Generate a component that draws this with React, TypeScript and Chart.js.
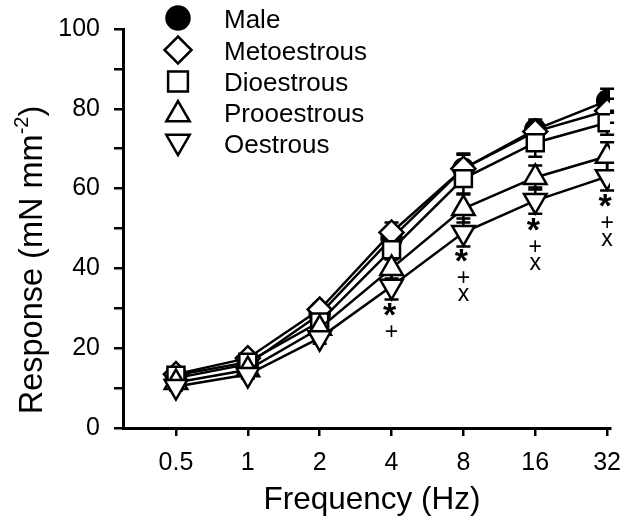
import React, { useEffect, useRef } from 'react';
import { Chart, registerables } from 'chart.js';

Chart.register(...registerables);

const frequencies = [0.5, 1, 2, 4, 8, 16, 32];
const tickLabels = ['0.5', '1', '2', '4', '8', '16', '32'];
const seriesNames = ['Male', 'Metoestrous', 'Dioestrous', 'Prooestrous', 'Oestrous'];

const maleValues = [12.5, 16, 28.5, 47.5, 65, 74.8, 82];
const maleErrors = [1, 1.2, 1.5, 2.5, 3.5, 2.5, 3];
const metoValues = [13.5, 17.5, 29.7, 49, 65, 74.3, 79.5];
const metoErrors = [1, 1.2, 1.5, 2.5, 3.8, 2.5, 3];
const dioValues = [13.2, 16.5, 26.6, 44.7, 62.5, 71.5, 76.5];
const dioErrors = [1, 1, 1.5, 2.5, 3.7, 3.5, 3];
const proValues = [11.4, 14.6, 25, 40, 55, 62.8, 68.1];
const proErrors = [1, 1, 1.5, 2.5, 3.5, 3, 3.5];
const oesValues = [10.4, 13.4, 22.6, 35.5, 49, 57, 63];
const oesErrors = [1, 1, 1.5, 3.3, 3.5, 3.3, 3.5];

// significance marks under the Oestrous points
const significance = [[], [], [], ['*', '+'], ['*', '+', 'x'], ['*', '+', 'x'], ['*', '+', 'x']];

const allValues = [maleValues, metoValues, dioValues, proValues, oesValues];
const allErrors = [maleErrors, metoErrors, dioErrors, proErrors, oesErrors];
const pointStyles = ['circle', 'rectRot', 'rect', 'triangle', 'triangle'];
const pointRotations = [0, 0, 0, 0, 180];
const pointRadii = [10, 12, 12, 13, 13];
const fills = ['#000', '#fff', '#fff', '#fff', '#fff'];

const FONT = '"Liberation Sans", Arial, Helvetica, sans-serif';

function drawMarker(ctx: CanvasRenderingContext2D, style: string, x: number, y: number, r: number, rot: number, fill: string) {
  ctx.beginPath();
  if (style === 'circle') {
    ctx.arc(x, y, r, 0, Math.PI * 2);
  } else if (style === 'rectRot') {
    ctx.moveTo(x, y - r);
    ctx.lineTo(x + r, y);
    ctx.lineTo(x, y + r);
    ctx.lineTo(x - r, y);
    ctx.closePath();
  } else if (style === 'rect') {
    const s = r * Math.SQRT1_2;
    ctx.rect(x - s, y - s, 2 * s, 2 * s);
  } else {
    let a = (rot * Math.PI) / 180;
    ctx.moveTo(x + Math.sin(a) * r, y - Math.cos(a) * r);
    a += (2 * Math.PI) / 3;
    ctx.lineTo(x + Math.sin(a) * r, y - Math.cos(a) * r);
    a += (2 * Math.PI) / 3;
    ctx.lineTo(x + Math.sin(a) * r, y - Math.cos(a) * r);
    ctx.closePath();
  }
  ctx.fillStyle = fill;
  ctx.fill();
  ctx.lineWidth = 2.5;
  ctx.strokeStyle = '#000';
  ctx.stroke();
}

const errorBarPlugin = {
  id: 'errorBars',
  beforeDatasetsDraw(chart: any) {
    const { ctx } = chart;
    const xs = chart.scales.x;
    const ys = chart.scales.y;
    ctx.save();
    ctx.strokeStyle = '#000';
    ctx.lineWidth = 2.5;
    allValues.forEach((vals, di) => {
      vals.forEach((v, i) => {
        const px = xs.getPixelForValue(frequencies[i]);
        const top = ys.getPixelForValue(v + allErrors[di][i]);
        const bot = ys.getPixelForValue(v - allErrors[di][i]);
        ctx.beginPath();
        ctx.moveTo(px, top);
        ctx.lineTo(px, bot);
        ctx.moveTo(px - 7, top);
        ctx.lineTo(px + 7, top);
        ctx.moveTo(px - 7, bot);
        ctx.lineTo(px + 7, bot);
        ctx.stroke();
      });
    });
    ctx.restore();
  },
};

const decorPlugin = {
  id: 'decor',
  afterDraw(chart: any) {
    const { ctx } = chart;
    const xs = chart.scales.x;
    const ys = chart.scales.y;
    ctx.save();
    ctx.fillStyle = '#000';

    // significance marks
    significance.forEach((marks, i) => {
      if (!marks.length) return;
      const px = xs.getPixelForValue(frequencies[i]);
      const base = ys.getPixelForValue(oesValues[i]);
      ctx.textAlign = 'center';
      ctx.textBaseline = 'alphabetic';
      marks.forEach((m) => {
        if (m === '*') {
          ctx.font = `bold 34px ${FONT}`;
          ctx.fillText(m, px - 2, base + 40);
        } else if (m === '+') {
          ctx.font = `23px ${FONT}`;
          ctx.fillText(m, px, base + 53);
        } else {
          ctx.font = `23px ${FONT}`;
          ctx.fillText(m, px, base + 69);
        }
      });
    });

    // legend
    const rows = [18, 50, 81.5, 112.5, 143.5];
    const legendR = [11.5, 13.5, 14, 13.5, 13.5];
    seriesNames.forEach((name, i) => {
      const y = rows[i];
      const my = pointStyles[i] === 'triangle' ? (pointRotations[i] ? y - 2 : y + 2) : y;
      drawMarker(ctx, pointStyles[i], 178, my, legendR[i], pointRotations[i], fills[i]);
      ctx.fillStyle = '#000';
      ctx.font = `26px ${FONT}`;
      ctx.textAlign = 'left';
      ctx.textBaseline = 'alphabetic';
      ctx.fillText(name, 224, y + 9.5);
    });

    // x title
    ctx.font = `31.5px ${FONT}`;
    ctx.textAlign = 'center';
    ctx.textBaseline = 'alphabetic';
    ctx.fillText('Frequency (Hz)', 372, 509);

    // y title with superscript
    ctx.translate(42, 260);
    ctx.rotate(-Math.PI / 2);
    const main = 'Response (mN mm';
    const sup = '-2';
    const end = ')';
    ctx.font = `32.5px ${FONT}`;
    const w1 = ctx.measureText(main).width;
    const w3 = ctx.measureText(end).width;
    ctx.font = `20px ${FONT}`;
    const w2 = ctx.measureText(sup).width;
    const total = w1 + w2 + w3;
    let u = -total / 2;
    ctx.textAlign = 'left';
    ctx.font = `32.5px ${FONT}`;
    ctx.fillText(main, u, 0);
    u += w1;
    ctx.font = `20px ${FONT}`;
    ctx.fillText(sup, u, -14);
    u += w2;
    ctx.font = `32.5px ${FONT}`;
    ctx.fillText(end, u, 0);
    ctx.restore();
  },
};

export default function App() {
  const canvasRef = useRef<HTMLCanvasElement | null>(null);

  useEffect(() => {
    document.body.style.margin = '0';
    const canvas = canvasRef.current;
    if (!canvas) return;
    const datasets = seriesNames.map((name, di) => ({
      label: name,
      data: frequencies.map((f, i) => ({ x: f, y: allValues[di][i] })),
      borderColor: '#000',
      borderWidth: 2.5,
      backgroundColor: fills[di],
      pointStyle: pointStyles[di],
      pointRotation: pointRotations[di],
      pointRadius: pointRadii[di],
      pointBackgroundColor: fills[di],
      pointBorderColor: '#000',
      pointBorderWidth: 2.5,
      fill: false,
      tension: 0,
      order: 5 - di,
    }));

    const chart = new Chart(canvas, {
      type: 'line',
      data: { datasets },
      plugins: [errorBarPlugin, decorPlugin],
      options: {
        animation: false,
        responsive: true,
        maintainAspectRatio: false,
        devicePixelRatio: 1,
        layout: { padding: { top: 25, right: 30, left: 0, bottom: 0 } },
        plugins: {
          legend: { display: false },
          tooltip: { enabled: false },
        },
        scales: {
          x: {
            type: 'logarithmic',
            min: 0.3473,
            max: 32.9,
            afterBuildTicks: (scale: any) => {
              scale.ticks = frequencies.map((v) => ({ value: v }));
            },
            afterFit: (scale: any) => {
              scale.height = 95;
            },
            ticks: {
              autoSkip: false,
              maxRotation: 0,
              color: '#000',
              font: { size: 25, family: FONT },
              padding: 12,
              callback: (_v: any, index: number) => tickLabels[index],
            },
            grid: { drawOnChartArea: false, drawTicks: true, tickLength: 8, color: '#000', lineWidth: 2.5 },
            border: { display: true, color: '#000', width: 3 },
          },
          y: {
            type: 'linear',
            min: 0,
            max: 100,
            afterFit: (scale: any) => {
              scale.width = 123;
            },
            ticks: {
              stepSize: 10,
              color: '#000',
              font: { size: 25, family: FONT },
              padding: 14,
              callback: (v: any) => (Number(v) % 20 === 0 ? String(v) : ''),
            },
            grid: { drawOnChartArea: false, drawTicks: true, tickLength: 9, color: '#000', lineWidth: 2.5 },
            border: { display: true, color: '#000', width: 3 },
          },
        },
      } as any,
    });
    return () => chart.destroy();
  }, []);

  return (
    <div style={{ position: 'fixed', left: 0, top: 0, width: 640, height: 523, background: '#fff' }}>
      <canvas ref={canvasRef} />
    </div>
  );
}
